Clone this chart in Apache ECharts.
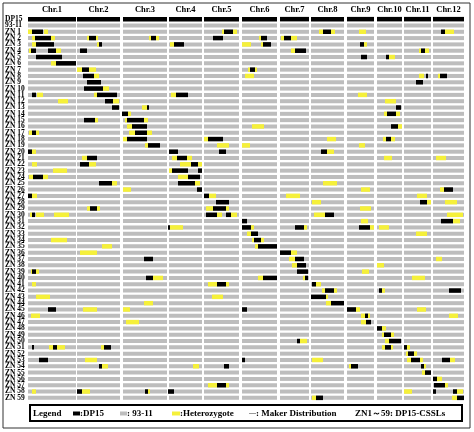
<!DOCTYPE html>
<html>
<head>
<meta charset="UTF-8">
<style>
  html, body { margin: 0; padding: 0; background: #fff; }
  #chart { width: 474px; height: 432px; }
</style>
<script src="https://cdn.jsdelivr.net/npm/echarts/dist/echarts.min.js"></script>
</head>
<body>
<div id="chart"></div>
<script>
// chromosome names and their span on the map axis
const chrNames = ['Chr.1','Chr.2','Chr.3','Chr.4','Chr.5','Chr.6','Chr.7','Chr.8','Chr.9','Chr.10','Chr.11','Chr.12'];
const chrStart = [28, 77, 123, 169, 204, 242, 280, 311, 347, 377, 404, 433];
const chrEnd   = [76, 120, 167, 202, 239, 277, 309, 344, 374, 402, 431, 464];

const rowNames = ['DP15', '93-11'];
for (let i = 1; i <= 59; i++) rowNames.push('ZN ' + i);

// DP15 segments: [line, start, end]
const dp15Segs = [
  [1,32,43],[1,224,233],[1,323,331],[1,441,445],
  [2,35,51],[2,89,96],[2,151,156],[2,213,223],[2,261,267],[2,284,291],
  [3,36,54],[3,99,102],[3,174,184],[3,263,271],[3,360,364],
  [4,31,36],[4,48,56],[4,80,87],[4,295,306],[4,421,425],
  [5,36,62],[5,361,367],[5,386,389],
  [6,56,76],
  [7,82,89],[7,250,255],
  [8,83,94],[8,426,428],[8,440,447],
  [9,87,101],[9,416,423],
  [10,84,103],
  [11,32,36],[11,97,117],[11,176,188],
  [12,105,113],
  [13,112,119],[13,147,149],[13,396,401],
  [14,122,128],[14,387,396],
  [15,84,95],[15,127,144],
  [16,132,147],[16,391,398],
  [17,32,36],[17,135,147],
  [18,127,147],[18,208,223],[18,386,391],
  [19,148,160],
  [20,28,32],[20,169,178],[20,219,226],[20,321,327],
  [21,87,97],[21,177,187],
  [22,80,89],[22,191,198],
  [23,172,188],[23,198,202],
  [24,33,43],[24,188,200],
  [25,99,112],[25,178,195],
  [26,197,202],[26,444,453],
  [27,28,32],[27,204,209],
  [28,216,229],[28,420,427],
  [29,90,97],[29,213,226],
  [30,32,35],[30,206,217],[30,226,231],[30,325,334],
  [31,242,247],[31,441,453],
  [32,168,170],[32,242,251],[32,295,304],[32,359,370],
  [33,251,258],
  [34,254,261],
  [35,258,277],
  [36,280,291],
  [37,144,153],[37,295,304],
  [38,297,306],
  [39,32,36],[39,297,308],
  [40,146,153],[40,263,277],[40,305,308],
  [41,217,226],[41,312,316],
  [42,325,334],[42,379,382],[42,449,461],
  [43,311,326],
  [44,331,344],
  [45,48,56],[45,242,247],[45,347,356],
  [46,365,368],
  [47,366,371],
  [48,377,382],
  [49,384,391],
  [50,297,300],[50,389,401],
  [51,32,34],[51,53,57],[51,104,111],[51,385,391],[51,404,407],
  [52,408,414],
  [53,39,48],[53,242,245],[53,411,420],[53,442,450],
  [54,99,102],[54,224,229],[54,351,358],[54,421,424],
  [55,425,431],
  [56,433,437],
  [57,217,226],[57,434,445],
  [58,77,82],[58,145,148],[58,168,174],[58,433,436],[58,453,457],
  [59,316,323],[59,457,464]
];

// heterozygous segments: [line, start, end]
const hetSegs = [
  [1,28,32],[1,44,48],[1,222,224],[1,233,237],[1,319,323],[1,331,335],[1,359,366],[1,445,454],
  [2,32,35],[2,51,55],[2,87,89],[2,96,98],[2,149,151],[2,156,159],[2,259,261],[2,281,284],[2,291,297],
  [3,32,36],[3,97,99],[3,170,174],[3,242,251],[3,261,263],[3,364,367],
  [4,29,31],[4,56,61],[4,291,295],[4,419,421],[4,425,429],
  [5,389,395],
  [6,51,56],
  [7,77,82],[7,89,96],[7,248,250],[7,255,257],
  [8,94,99],[8,245,254],[8,419,424],[8,438,440],
  [10,103,109],
  [11,37,43],[11,94,97],[11,171,176],[11,358,367],
  [12,58,68],[12,113,119],[12,385,396],
  [13,142,147],
  [14,128,131],[14,384,387],[14,396,400],
  [15,95,98],[15,125,127],[15,144,148],
  [16,127,132],[16,252,264],[16,398,402],
  [17,29,32],[17,36,39],[17,129,135],[17,147,152],
  [18,123,127],[18,204,208],[18,327,336],[18,383,386],[18,391,395],
  [19,145,148],[19,217,229],[19,242,250],[19,359,365],
  [20,32,36],[20,327,334],
  [21,82,87],[21,172,177],[21,187,192],[21,384,392],[21,436,446],
  [22,32,37],[22,89,96],[22,180,191],[22,198,202],
  [23,53,67],[23,169,172],
  [24,29,33],[24,43,48],[24,178,188],
  [25,112,117],[25,195,200],[25,323,337],
  [26,123,131],[26,361,370],[26,440,444],
  [27,32,37],[27,209,216],[27,286,300],[27,417,427],
  [28,312,321],[28,427,431],[28,445,457],
  [29,87,90],[29,97,100],[29,206,213],[29,226,229],[29,360,371],
  [30,30,32],[30,36,44],[30,54,69],[30,217,222],[30,231,237],[30,314,325],[30,447,463],
  [31,361,368],[31,453,460],
  [32,170,183],[32,251,254],[32,304,307],[32,370,374],[32,379,389],
  [33,247,251],[33,416,427],
  [34,51,67],[34,252,254],[34,261,264],
  [35,102,112],[35,255,258],
  [36,80,97],[36,291,297],
  [37,289,295],[37,436,442],
  [38,292,297],[38,377,384],
  [39,31,32],[39,36,39],[39,362,369],
  [40,153,163],[40,258,263],[40,303,305],[40,412,425],
  [41,32,36],[41,208,217],[41,226,229],[41,316,321],
  [42,322,325],[42,334,337],[42,382,385],
  [43,36,50],[43,212,223],[43,326,328],
  [44,144,153],[44,326,331],
  [45,83,97],[45,123,130],[45,356,360],[45,417,426],
  [46,31,40],[46,361,365],[46,368,370],[46,449,458],
  [47,126,139],[47,361,366],
  [48,382,386],
  [49,382,384],[49,391,394],
  [50,300,307],[50,385,389],
  [51,49,53],[51,57,65],[51,101,104],[51,382,385],[51,391,393],[51,407,410],
  [52,406,408],[52,414,417],
  [53,85,97],[53,312,323],[53,407,411],[53,420,423],[53,450,455],
  [54,102,108],[54,193,199],[54,349,351],[54,424,426],
  [55,422,425],
  [56,437,442],
  [57,208,217],[57,226,229],[57,445,448],
  [58,32,36],[58,82,90],[58,148,150],[58,404,412],[58,457,463],
  [59,312,316],[59,452,457]
];

const chart = echarts.init(document.getElementById('chart'));

const grayData = [], dpRow = [];
for (let r = 1; r < rowNames.length; r++) {
  for (let c = 0; c < chrNames.length; c++) grayData.push([chrStart[c], chrEnd[c], r]);
}
for (let c = 0; c < chrNames.length; c++) dpRow.push([chrStart[c], chrEnd[c], 0]);

function segRender(h, color) {
  return function (params, api) {
    const a = api.coord([api.value(0), api.value(2)]);
    const b = api.coord([api.value(1), api.value(2)]);
    return {
      type: 'rect',
      shape: { x: a[0], y: a[1] - h / 2, width: Math.max(b[0] - a[0], 1.5), height: h },
      style: { fill: color }
    };
  };
}
const toData = segs => segs.map(s => [s[1], s[2], s[0] + 1]);
const enc = { x: [0, 1], y: 2 };

chart.setOption({
  animation: false,
  grid: { left: 28, right: 10, top: 16, bottom: 31 },
  xAxis: { type: 'value', min: 28, max: 464, show: false },
  yAxis: {
    type: 'category', data: rowNames, inverse: true,
    axisLine: { show: false }, axisTick: { show: false }, splitLine: { show: false },
    axisLabel: {
      interval: 0, align: 'left', margin: 23,
      fontFamily: 'Liberation Serif', fontWeight: 'bold', fontSize: 7.5, color: '#000'
    }
  },
  series: [
    { type: 'custom', renderItem: segRender(4, '#bdbdbd'), data: grayData, encode: enc },
    { type: 'custom', renderItem: segRender(4.5, '#000'), data: dpRow, encode: enc },
    { type: 'custom', renderItem: segRender(4.5, '#f5f03a'), data: toData(hetSegs), encode: enc },
    { type: 'custom', renderItem: segRender(4.5, '#000'), data: toData(dp15Segs), encode: enc }
  ]
});

// chromosome headers, frame and legend
const txt = (x, y, t, extra) => Object.assign({
  type: 'text', x: x, y: y,
  style: { text: t, fill: '#000', font: 'bold 9px "Liberation Serif"', textVerticalAlign: 'middle' }
}, extra || {});
const g = [
  { type: 'rect', shape: { x: 3, y: 3, width: 467, height: 425 }, style: { fill: 'none', stroke: '#333', lineWidth: 1 } },
  { type: 'rect', shape: { x: 30, y: 405, width: 432, height: 16 }, style: { fill: 'none', stroke: '#000', lineWidth: 2 } }
];
chrNames.forEach((n, i) => {
  const p = chart.convertToPixel({ gridIndex: 0 }, [(chrStart[i] + chrEnd[i]) / 2, 0]);
  g.push(txt(p[0], 10, n, { style: { text: n, fill: '#000', font: 'bold 8.5px "Liberation Serif"', textAlign: 'center', textVerticalAlign: 'middle' } }));
});
const ly = 413.5;
g.push(txt(33, ly, 'Legend'));
g.push({ type: 'rect', shape: { x: 73, y: ly - 2, width: 7, height: 4 }, style: { fill: '#000' } });
g.push(txt(80, ly, ':DP15'));
g.push({ type: 'rect', shape: { x: 120, y: ly - 2, width: 7, height: 4 }, style: { fill: '#bdbdbd' } });
g.push(txt(127, ly, ': 93-11'));
g.push({ type: 'rect', shape: { x: 172, y: ly - 2, width: 8, height: 4 }, style: { fill: '#f5f03a' } });
g.push(txt(180, ly, ':Heterozygote'));
g.push({ type: 'line', shape: { x1: 249, y1: ly, x2: 256, y2: ly }, style: { stroke: '#999', lineWidth: 1 } });
g.push(txt(256, ly, ': Maker Distribution'));
g.push(txt(355, ly, 'ZN1～59: DP15-CSSLs'));
chart.setOption({ graphic: g });
</script>
</body>
</html>
